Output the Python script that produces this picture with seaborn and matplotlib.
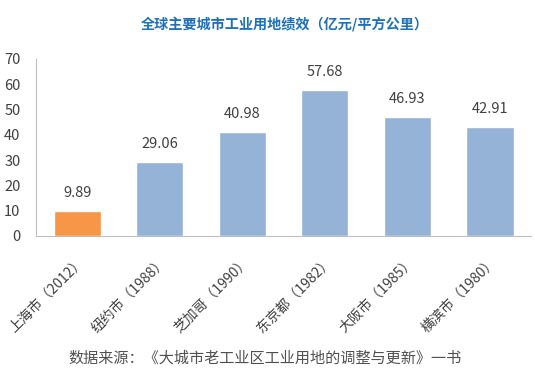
import matplotlib
matplotlib.use("Agg")
import matplotlib.pyplot as plt
import seaborn as sns
import pandas as pd

# 数据
cities = ["上海市（2012）", "纽约市（1988）", "芝加哥（1990）", "东京都（1982）", "大阪市（1985）", "横滨市（1980）"]
values = [9.89, 29.06, 40.98, 57.68, 46.93, 42.91]
bar_colors = ["#F79646", "#95B3D7", "#95B3D7", "#95B3D7", "#95B3D7", "#95B3D7"]

sns.set_style("white")
plt.rcParams['font.family'] = ['Noto Sans CJK SC', 'DejaVu Sans']

df = pd.DataFrame({"城市": cities, "绩效": values})

fig = plt.figure(figsize=(5.35, 3.75), dpi=100)
ax = fig.add_axes([0.067, 0.371, 0.926, 0.472])

sns.barplot(data=df, x="城市", y="绩效", hue="城市", palette=bar_colors,
            legend=False, width=0.57, saturation=1, ax=ax)

# 数据标签
for i, v in enumerate(values):
    ax.annotate(f"{v:.2f}", (i, v), xytext=(0, 8), textcoords="offset points",
                ha="center", va="bottom", fontsize=10.5, color="#404040")

ax.set_ylim(0, 70)
ax.set_xlim(-0.5, len(cities) - 0.5)
ax.set_yticks(range(0, 71, 10))
ax.set_xlabel("")
ax.set_ylabel("")
ax.tick_params(axis="y", length=0, labelsize=10.5, labelcolor="#404040", pad=11)
ax.tick_params(axis="x", length=0, labelsize=10, labelcolor="#404040", pad=13)
plt.setp(ax.get_xticklabels(), rotation=45, ha="right", rotation_mode="anchor")

for s in ["top", "right"]:
    ax.spines[s].set_visible(False)
ax.spines["left"].set_color("#BFBFBF")
ax.spines["bottom"].set_color("#BFBFBF")

fig.text(0.533, 0.933, "全球主要城市工业用地绩效（亿元/平方公里）", ha="center", va="center",
         fontsize=10.2, fontweight="bold", color="#1F70B8")
fig.text(0.495, 0.045, "数据来源：《大城市老工业区工业用地的调整与更新》一书", ha="center", va="center",
         fontsize=10.9, color="#505050")

fig.savefig("out.png", dpi=100)
